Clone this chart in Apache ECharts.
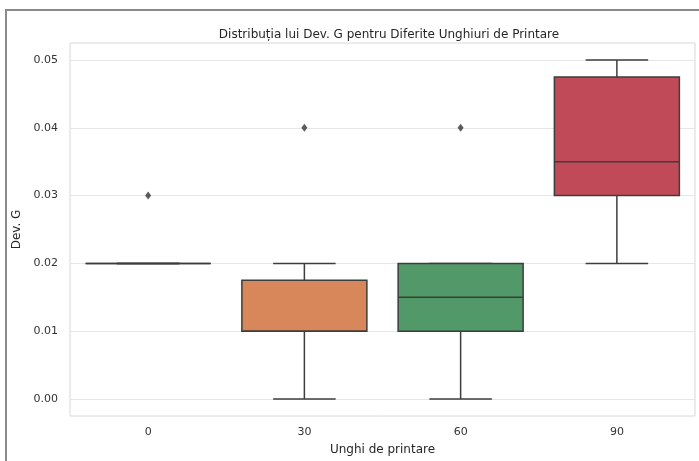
<!DOCTYPE html>
<html>
<head>
<meta charset="utf-8">
<script src="https://cdn.jsdelivr.net/npm/echarts@6/dist/echarts.min.js"></script>
<style>
html,body{margin:0;padding:0;background:#fff;}
#chart{width:699px;height:461px;}
</style>
</head>
<body>
<div id="chart"></div>
<script>
const categories = ['0', '30', '60', '90'];
const whiskerLow = [0.02, 0.00, 0.00, 0.02];
const q1 = [0.02, 0.01, 0.01, 0.03];
const median = [0.02, 0.01, 0.015, 0.035];
const q3 = [0.02, 0.0175, 0.02, 0.0475];
const whiskerHigh = [0.02, 0.02, 0.02, 0.05];
const outlierCat = [0, 1, 2];
const outlierVal = [0.03, 0.04, 0.04];
const boxColors = ['#5875a4', '#d8875a', '#52996a', '#c04a58'];

const boxData = categories.map((c, i) => [i, whiskerLow[i], q1[i], median[i], q3[i], whiskerHigh[i]]);
const outData = outlierCat.map((c, i) => [c, outlierVal[i]]);

const chart = echarts.init(document.getElementById('chart'));
const edge = '#3d3d3d';
const font = 'DejaVu Sans';

chart.setOption({
  animation: false,
  backgroundColor: '#fff',
  title: {
    text: 'Distribuția lui Dev. G pentru Diferite Unghiuri de Printare',
    left: 384, top: 24, textAlign: 'center',
    textStyle: {fontFamily: font, fontSize: 12, fontWeight: 'normal', color: '#262626'}
  },
  graphic: [{
    type: 'rect', silent: true,
    shape: {x: 6, y: 10, width: 700, height: 470},
    style: {fill: 'none', stroke: '#8a8a8a', lineWidth: 2}
  }],
  grid: {left: 70, right: 4, top: 43, bottom: 44, show: true, borderColor: '#d8d8d8', borderWidth: 1},
  xAxis: {
    type: 'category', data: categories, boundaryGap: true,
    name: 'Unghi de printare', nameLocation: 'middle', nameGap: 28,
    nameTextStyle: {fontFamily: font, fontSize: 12, color: '#262626'},
    axisLine: {show: false}, axisTick: {show: false},
    axisLabel: {fontFamily: font, fontSize: 11, color: '#333', margin: 11},
    splitLine: {show: false}
  },
  yAxis: {
    type: 'value', min: -0.0025, max: 0.0525, interval: 0.0025,
    name: 'Dev. G', nameLocation: 'middle', nameGap: 43,
    nameTextStyle: {fontFamily: font, fontSize: 12, color: '#262626'},
    axisLine: {show: false}, axisTick: {show: false},
    axisLabel: {
      fontFamily: font, fontSize: 11, color: '#333', margin: 12,
      formatter: v => (Math.abs(v * 100 - Math.round(v * 100)) < 1e-6 && v > -0.001) ? Math.abs(v).toFixed(2) : ''
    },
    splitLine: {show: true, lineStyle: {color: ['rgba(0,0,0,0)', '#e6e6e6', 'rgba(0,0,0,0)', 'rgba(0,0,0,0)'], width: 1}}
  },
  series: [{
    type: 'custom',
    data: boxData,
    encode: {x: 0, y: [1, 2, 3, 4, 5]},
    renderItem: function (params, api) {
      const x = api.value(0);
      const pLow = api.coord([x, api.value(1)]);
      const pQ1 = api.coord([x, api.value(2)]);
      const pMed = api.coord([x, api.value(3)]);
      const pQ3 = api.coord([x, api.value(4)]);
      const pHigh = api.coord([x, api.value(5)]);
      const band = api.size([1, 0])[0];
      const half = band * 0.4;
      const cap = band * 0.2;
      const cx = pMed[0];
      const ls = {stroke: edge, lineWidth: 1.5};
      return {
        type: 'group',
        children: [
          {type: 'line', shape: {x1: cx, y1: pLow[1], x2: cx, y2: pQ1[1]}, style: ls},
          {type: 'line', shape: {x1: cx, y1: pQ3[1], x2: cx, y2: pHigh[1]}, style: ls},
          {type: 'line', shape: {x1: cx - cap, y1: pLow[1], x2: cx + cap, y2: pLow[1]}, style: ls},
          {type: 'line', shape: {x1: cx - cap, y1: pHigh[1], x2: cx + cap, y2: pHigh[1]}, style: ls},
          {type: 'rect', shape: {x: cx - half, y: pQ3[1], width: half * 2, height: pQ1[1] - pQ3[1]},
           style: {fill: boxColors[params.dataIndex], stroke: edge, lineWidth: 1.5}},
          {type: 'line', shape: {x1: cx - half, y1: pMed[1], x2: cx + half, y2: pMed[1]}, style: ls}
        ]
      };
    }
  }, {
    type: 'scatter',
    data: outData,
    symbol: 'diamond',
    symbolSize: [6, 8],
    itemStyle: {color: '#333333'},
    z: 5
  }]
});
</script>
</body>
</html>
